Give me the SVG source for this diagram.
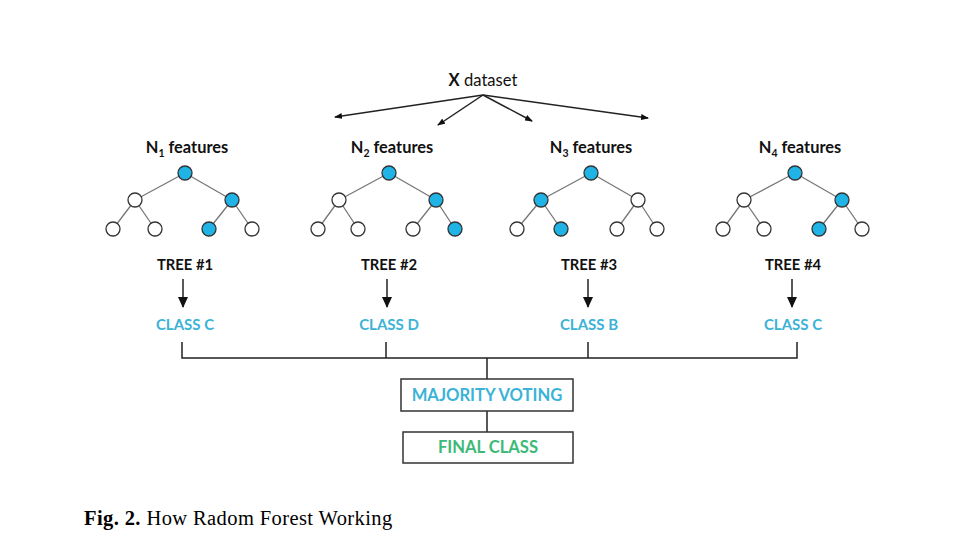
<svg xmlns="http://www.w3.org/2000/svg" width="979" height="540" viewBox="0 0 979 540">
<style>
.lbl{font-family:Lato,"Liberation Sans",sans-serif;font-weight:bold;font-size:16.4px;fill:#111;text-anchor:middle}
.tr{font-size:14.8px}
.cls{font-family:Lato,"Liberation Sans",sans-serif;font-weight:bold;font-size:15px;fill:#3bb3d6;text-anchor:middle}
.big{font-size:16.6px}
.edge{stroke:#777;stroke-width:1.3;fill:none}
.n{stroke:#333;stroke-width:1.3;fill:#fff}
.f{fill:#1fb3e6}
.conn{stroke:#222;stroke-width:1.5;fill:none}
.box{fill:#fff;stroke:#333;stroke-width:1.5}
</style>
<defs>
<marker id="ah" markerWidth="8" markerHeight="6" refX="7" refY="3" orient="auto" markerUnits="userSpaceOnUse">
<path d="M0,0 L8,3 L0,6 Z" fill="#111"/>
</marker>
<marker id="dh" markerWidth="10" markerHeight="11" refX="5" refY="10" orient="0" markerUnits="userSpaceOnUse">
<path d="M0,0 L10,0 L5,11 Z" fill="#111"/>
</marker>
</defs>
<rect width="979" height="540" fill="#fff"/>

<g id="dataset">
<text x="483" y="86" font-family="Lato,'Liberation Sans',sans-serif" font-size="16.6" text-anchor="middle" fill="#111"><tspan font-weight="bold">X</tspan> dataset</text>
</g>

<g id="connectors">
<line class="conn" x1="483" y1="95" x2="335" y2="117" marker-end="url(#ah)" stroke-width="1.2"/>
<line class="conn" x1="483" y1="95" x2="438" y2="125" marker-end="url(#ah)" stroke-width="1.2"/>
<line class="conn" x1="483" y1="95" x2="532" y2="121" marker-end="url(#ah)" stroke-width="1.2"/>
<line class="conn" x1="483" y1="95" x2="648" y2="118" marker-end="url(#ah)" stroke-width="1.2"/>
<line class="conn" x1="183" y1="279" x2="183" y2="307" stroke-width="2.2" marker-end="url(#dh)"/>
<line class="conn" x1="387" y1="279" x2="387" y2="307" stroke-width="2.2" marker-end="url(#dh)"/>
<line class="conn" x1="588" y1="279" x2="588" y2="307" stroke-width="2.2" marker-end="url(#dh)"/>
<line class="conn" x1="792" y1="279" x2="792" y2="307" stroke-width="2.2" marker-end="url(#dh)"/>
<path class="conn" d="M182,342 V358 H797 V342 M386,342 V358 M588,342 V358 M487,358 V379 M487,411 V432"/>
</g>

<g id="tree1" transform="translate(185,173)">
<text class="lbl" x="2" y="-20">N<tspan font-size="10.5" dy="4">1</tspan><tspan dy="-4"> features</tspan></text>
<path class="edge" d="M0,0 L-50,27 M0,0 L47,27 M-50,27 L-72,56 M-50,27 L-30,56 M47,27 L24,56 M47,27 L67,56"/>
<circle class="n f" cx="0" cy="0" r="7"/>
<circle class="n" cx="-50" cy="27" r="7"/>
<circle class="n f" cx="47" cy="27" r="7"/>
<circle class="n" cx="-72" cy="56" r="7"/>
<circle class="n" cx="-30" cy="56" r="7"/>
<circle class="n f" cx="24" cy="56" r="7"/>
<circle class="n" cx="67" cy="56" r="7"/>
<text class="lbl tr" x="0" y="97">TREE #1</text>
<text class="cls" x="0" y="157">CLASS C</text>
</g>

<g id="tree2" transform="translate(389,173)">
<text class="lbl" x="3" y="-20">N<tspan font-size="10.5" dy="4">2</tspan><tspan dy="-4"> features</tspan></text>
<path class="edge" d="M0,0 L-50,27 M0,0 L47,27 M-50,27 L-71,56 M-50,27 L-31,56 M47,27 L24,56 M47,27 L66,56"/>
<circle class="n f" cx="0" cy="0" r="7"/>
<circle class="n" cx="-50" cy="27" r="7"/>
<circle class="n f" cx="47" cy="27" r="7"/>
<circle class="n" cx="-71" cy="56" r="7"/>
<circle class="n" cx="-31" cy="56" r="7"/>
<circle class="n" cx="24" cy="56" r="7"/>
<circle class="n f" cx="66" cy="56" r="7"/>
<text class="lbl tr" x="0" y="97">TREE #2</text>
<text class="cls" x="0" y="157">CLASS D</text>
</g>

<g id="tree3" transform="translate(591,173)">
<text class="lbl" x="0" y="-20">N<tspan font-size="10.5" dy="4">3</tspan><tspan dy="-4"> features</tspan></text>
<path class="edge" d="M0,0 L-50,27 M0,0 L47,27 M-50,27 L-74,56 M-50,27 L-30,56 M47,27 L26,56 M47,27 L66,56"/>
<circle class="n f" cx="0" cy="0" r="7"/>
<circle class="n f" cx="-50" cy="27" r="7"/>
<circle class="n" cx="47" cy="27" r="7"/>
<circle class="n" cx="-74" cy="56" r="7"/>
<circle class="n f" cx="-30" cy="56" r="7"/>
<circle class="n" cx="26" cy="56" r="7"/>
<circle class="n" cx="66" cy="56" r="7"/>
<text class="lbl tr" x="-2" y="97">TREE #3</text>
<text class="cls" x="-2" y="157">CLASS B</text>
</g>

<g id="tree4" transform="translate(795,173)">
<text class="lbl" x="5" y="-20">N<tspan font-size="10.5" dy="4">4</tspan><tspan dy="-4"> features</tspan></text>
<path class="edge" d="M0,0 L-51,27 M0,0 L47,27 M-51,27 L-72,56 M-51,27 L-31,56 M47,27 L24,56 M47,27 L67,56"/>
<circle class="n f" cx="0" cy="0" r="7"/>
<circle class="n" cx="-51" cy="27" r="7"/>
<circle class="n f" cx="47" cy="27" r="7"/>
<circle class="n" cx="-72" cy="56" r="7"/>
<circle class="n" cx="-31" cy="56" r="7"/>
<circle class="n f" cx="24" cy="56" r="7"/>
<circle class="n" cx="67" cy="56" r="7"/>
<text class="lbl tr" x="-2" y="97">TREE #4</text>
<text class="cls" x="-2" y="157">CLASS C</text>
</g>

<g id="majority">
<rect class="box" x="401" y="379" width="172" height="32"/>
<text class="cls big" x="487" y="401">MAJORITY VOTING</text>
</g>

<g id="final">
<rect class="box" x="403" y="432" width="170" height="31"/>
<text class="cls big" x="488" y="453" style="fill:#3dba78">FINAL CLASS</text>
</g>

<g id="caption">
<text x="84" y="525" font-family="'Liberation Serif',serif" font-size="20.5" letter-spacing="0.4" fill="#000"><tspan font-weight="bold">Fig. 2.</tspan> How Radom Forest Working</text>
</g>
</svg>
